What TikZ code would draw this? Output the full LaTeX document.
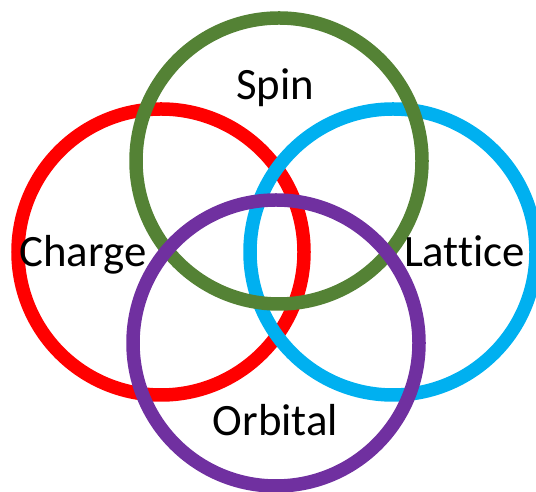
\documentclass[tikz,border=0pt]{standalone}
\usepackage{fontspec}
\setmainfont[Ligatures=NoCommon]{Carlito}
\usetikzlibrary{positioning}

\definecolor{chargered}{HTML}{FF0000}
\definecolor{latticeblue}{HTML}{00B0F0}
\definecolor{spingreen}{HTML}{548235}
\definecolor{orbitalpurple}{HTML}{7030A0}

\begin{document}
\begin{tikzpicture}[
  x=1bp, y=1bp,
  ring/.style  ={circle, draw, line width=13.5bp, minimum size=286bp, inner sep=0pt},
  label/.style ={anchor=base, inner sep=0pt, font=\fontsize{45}{54}\selectfont},
]
\useasboundingbox (0,0) rectangle (536,492);

% ---- rings (back to front) ----
\node[ring, draw=chargered]     (chargering)  at (161,240) {};
\node[ring, draw=latticeblue]   (latticering) at (393,240) {};
\node[ring, draw=spingreen]     (spinring)    at (279,331) {};
\node[ring, draw=orbitalpurple] (orbitalring) at (276,149) {};

% ---- labels ----
\node[label] (spin)    at (275,392)   {Spin};
\node[label] (charge)  at (83,225)    {Charge};
\node[label] (lattice) at (464.5,225) {Lattice};
\node[label] (orbital) at (275.5,56)  {Orbital};

\end{tikzpicture}
\end{document}
